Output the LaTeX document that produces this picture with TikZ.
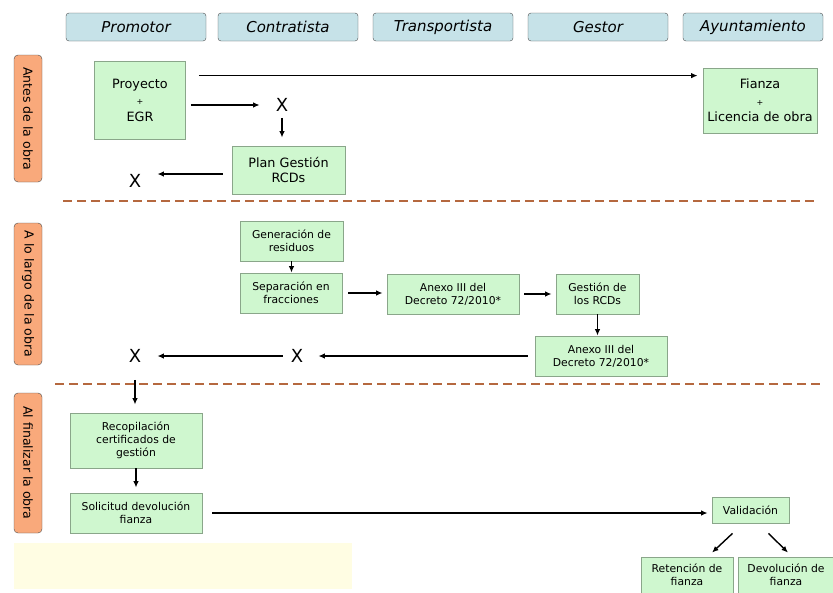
\documentclass[tikz,border=0pt]{standalone}
\usepackage{fontspec}
\setmainfont{DejaVu Sans}
\usetikzlibrary{arrows.meta,positioning,calc}
\definecolor{HeadBlue}{HTML}{C6E2E8}
\definecolor{PhaseOrange}{HTML}{F9A97B}
\definecolor{BoxGreen}{HTML}{CFF7CF}
\definecolor{BoxEdge}{HTML}{8AA68A}
\definecolor{DashBrown}{HTML}{B5683F}
\definecolor{PaleYellow}{HTML}{FFFDE3}
\begin{document}
\begin{tikzpicture}[x=1pt,y=-1pt,
  actor/.style={draw=black!70,fill=HeadBlue,rounded corners=3pt,minimum width=140pt,minimum height=28pt,font=\fontsize{15}{18}\selectfont\itshape},
  phase/.style={draw=black!70,fill=PhaseOrange,rounded corners=4pt,rotate=-90,minimum height=28pt,inner sep=0pt,font=\fontsize{12.5}{15}\selectfont},
  box/.style={draw=BoxEdge,fill=BoxGreen,line width=0.8pt,align=center,inner sep=1pt,font=\fontsize{12.8}{15.5}\selectfont},
  small/.style={box,font=\fontsize{10.8}{13}\selectfont},
  cross/.style={inner xsep=8pt,inner ysep=3pt,font=\fontsize{18}{20}\selectfont},
  arrow/.style={-{Latex[length=6.5pt,width=5.5pt]},line width=1.4pt},
  sep/.style={DashBrown,line width=2.5pt,dash pattern=on 9pt off 5pt}
]
\useasboundingbox (0,0) rectangle (833,592);
\clip (0,0) rectangle (833,592);
% headers
\node[actor] (prom) at (136,27) {Promotor};
\node[actor] (cont) at (288,27) {Contratista};
\node[actor] (trans) at (443,27) {Transportista};
\node[actor] (gestor) at (598,27) {Gestor};
\node[actor] (ayto) at (753,27) {Ayuntamiento};
% phases
\node[phase,minimum width=127pt] (antes) at (28,118.5) {Antes de la obra};
\node[phase,minimum width=142pt] (largo) at (28,294) {A lo largo de la obra};
\node[phase,minimum width=140pt] (final) at (28,463) {Al finalizar la obra};
\draw[sep] (63,201) -- (818,201);
\draw[sep] (55,384) -- (824,384);
\fill[PaleYellow] (14,543) rectangle (352,589);
% antes de la obra
\node[box,minimum width=91pt,minimum height=78pt] (proy) at (140,100) {Proyecto\\[1pt]{\fontsize{8}{9}\selectfont +}\\[1pt]EGR};
\node[box,minimum width=114pt,minimum height=65pt] (fianza) at (760,100.5) {Fianza\\[1pt]{\fontsize{8}{9}\selectfont +}\\[1pt]Licencia de obra};
\node[box,minimum width=113pt,minimum height=48pt] (plan) at (288.5,170) {Plan Gestión\\RCDs};
\node[cross] (x1) at (282,105) {X};
\node[cross] (x2) at (135,181) {X};
\coordinate (t1) at ([xshift=13pt,yshift=-15pt]proy.north east);
\draw[arrow,shorten >=5pt] (t1) -- (t1 -| fianza.west);
\draw[arrow,shorten <=5pt,shorten >=8pt] (proy.east |- x1) -- (x1.west);
\draw[arrow,shorten <=3pt,shorten >=8pt] (x1.south) -- (x1.south |- plan.north);
\coordinate (t2) at ([yshift=-4pt]plan.west);
\draw[arrow,shorten <=9pt,shorten >=8pt] (t2) -- (t2 -| x2.east);
% a lo largo de la obra
\node[small,minimum width=103pt,minimum height=40pt] (gen) at (291.5,241) {Generación de\\residuos};
\node[small,minimum width=102pt,minimum height=40pt] (separ) at (291,293) {Separación en\\fracciones};
\node[small,minimum width=132pt,minimum height=40pt] (anexoA) at (453,294) {Anexo III del\\Decreto 72/2010*};
\node[small,minimum width=83pt,minimum height=40pt] (gest) at (597.5,294) {Gestión de\\los RCDs};
\node[small,minimum width=132pt,minimum height=40pt] (anexoB) at (601,356) {Anexo III del\\Decreto 72/2010*};
\node[cross] (x3) at (297,356) {X};
\node[cross] (x4) at (135,356) {X};
\draw[arrow] (gen.south) -- (gen.south |- separ.north);
\draw[arrow,shorten <=6pt,shorten >=4pt] (separ.east) -- (separ.east -| anexoA.west);
\draw[arrow,shorten <=5pt,shorten >=4pt] (anexoA.east) -- (anexoA.east -| gest.west);
\draw[arrow] (gest.south) -- (gest.south |- anexoB.north);
\draw[arrow,shorten <=7pt,shorten >=7pt] (anexoB.west) -- (x3.east);
\draw[arrow,shorten >=8pt] (x3.west) -- (x4.east);
% al finalizar la obra
\node[small,minimum width=132pt,minimum height=55pt] (recop) at (136,440.5) {Recopilación\\certificados de\\gestión};
\node[small,minimum width=132pt,minimum height=40pt] (solic) at (136,513) {Solicitud devolución\\fianza};
\node[small,minimum width=77pt,minimum height=26pt] (valid) at (750.5,510) {Validación};
\node[small,minimum width=92pt,minimum height=36pt] (reten) at (687,575) {Retención de\\fianza};
\node[small,minimum width=96pt,minimum height=36pt] (devol) at (786,575) {Devolución de\\fianza};
\draw[arrow,shorten <=14pt,shorten >=8pt] (x4.south) -- (x4.south |- recop.north);
\draw[arrow,shorten >=5pt] (recop.south) -- (solic.north);
\draw[arrow,shorten <=10pt,shorten >=4pt] (solic.east) -- (solic.east -| valid.west);
\draw[arrow] ([xshift=-18pt,yshift=-10pt]valid.south) -- ([xshift=25pt,yshift=4pt]reten.north);
\draw[arrow] ([xshift=18pt,yshift=-10pt]valid.south) -- ([xshift=2pt,yshift=4pt]devol.north);
\end{tikzpicture}
\end{document}
